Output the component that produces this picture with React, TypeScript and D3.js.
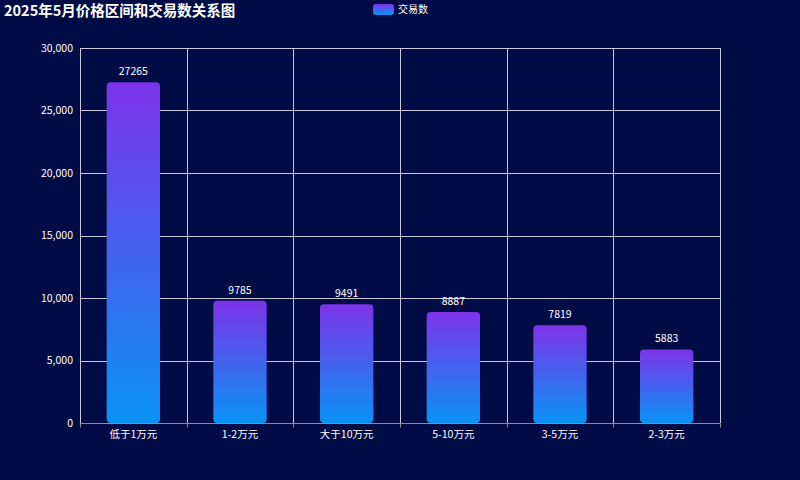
import { useEffect, useRef } from "react";
import * as d3 from "d3";

const categories = ["低于1万元", "1-2万元", "大于10万元", "5-10万元", "3-5万元", "2-3万元"];
const trades = [27265, 9785, 9491, 8887, 7819, 5883];
const yTicks = [0, 5000, 10000, 15000, 20000, 25000, 30000];

const BG = "#010b45";
const TOP = "#7d33e8";
const BOTTOM = "#0993f6";
const FONT = "'Noto Sans CJK SC', 'Noto Sans', sans-serif";

export default function App() {
  const ref = useRef<SVGSVGElement>(null);

  useEffect(() => {
    if (!ref.current) return;
    document.body.style.margin = "0";
    document.body.style.background = BG;
    const width = 800;
    const height = 480;
    const margin = { top: 48, right: 80, bottom: 57, left: 80 };

    const svg = d3.select(ref.current);
    svg.selectAll("*").remove();
    svg.attr("width", width).attr("height", height).style("font-family", FONT);

    svg.append("rect").attr("width", width).attr("height", height).attr("fill", BG);

    const defs = svg.append("defs");
    const grad = defs
      .append("linearGradient")
      .attr("id", "barGrad")
      .attr("x1", 0)
      .attr("y1", 0)
      .attr("x2", 0)
      .attr("y2", 1);
    grad.append("stop").attr("offset", "0%").attr("stop-color", TOP);
    grad.append("stop").attr("offset", "100%").attr("stop-color", BOTTOM);

    const x = d3
      .scaleBand()
      .domain(categories)
      .range([margin.left, width - margin.right])
      .paddingInner(0)
      .paddingOuter(0);

    const y = d3
      .scaleLinear()
      .domain([0, 30000])
      .range([height - margin.bottom, margin.top]);

    // horizontal grid
    svg
      .append("g")
      .attr("stroke", "#c8c8d8")
      .attr("stroke-width", 1)
      .selectAll("line")
      .data(yTicks.slice(1))
      .join("line")
      .attr("x1", margin.left)
      .attr("x2", width - margin.right)
      .attr("y1", (d) => Math.round(y(d)) + 0.5)
      .attr("y2", (d) => Math.round(y(d)) + 0.5);

    // vertical grid at band boundaries
    const bounds = categories.map((c) => x(c) ?? 0).concat([width - margin.right]);
    svg
      .append("g")
      .attr("stroke", "#c8c8d8")
      .attr("stroke-width", 1)
      .selectAll("line")
      .data(bounds)
      .join("line")
      .attr("x1", (d) => Math.round(d) + 0.5)
      .attr("x2", (d) => Math.round(d) + 0.5)
      .attr("y1", margin.top)
      .attr("y2", height - margin.bottom);

    // x axis line and ticks
    const axisY = Math.round(y(0)) + 0.5;
    svg
      .append("line")
      .attr("x1", margin.left)
      .attr("x2", width - margin.right)
      .attr("y1", axisY)
      .attr("y2", axisY)
      .attr("stroke", "#8a8a9a");
    svg
      .append("g")
      .attr("stroke", "#8a8a9a")
      .selectAll("line")
      .data(bounds)
      .join("line")
      .attr("x1", (d) => Math.round(d) + 0.5)
      .attr("x2", (d) => Math.round(d) + 0.5)
      .attr("y1", axisY)
      .attr("y2", axisY + 4);

    // y labels
    svg
      .append("g")
      .selectAll("text")
      .data(yTicks)
      .join("text")
      .attr("x", margin.left - 7)
      .attr("y", (d) => y(d))
      .attr("dy", "0.35em")
      .attr("text-anchor", "end")
      .attr("fill", "#ffffff")
      .attr("font-size", 10.5)
      .text((d) => d3.format(",")(d));

    // x labels
    svg
      .append("g")
      .selectAll("text")
      .data(categories)
      .join("text")
      .attr("x", (d) => (x(d) ?? 0) + x.bandwidth() / 2)
      .attr("y", y(0) + 15)
      .attr("text-anchor", "middle")
      .attr("fill", "#ffffff")
      .attr("font-size", 10.5)
      .text((d) => d);

    // bars
    const barW = x.bandwidth() * 0.5;
    svg
      .append("g")
      .selectAll("rect")
      .data(trades)
      .join("rect")
      .attr("x", (_, i) => (x(categories[i]) ?? 0) + (x.bandwidth() - barW) / 2)
      .attr("y", (d) => y(d))
      .attr("width", barW)
      .attr("height", (d) => y(0) - y(d))
      .attr("rx", 4)
      .attr("fill", "url(#barGrad)");

    // value labels
    svg
      .append("g")
      .selectAll("text")
      .data(trades)
      .join("text")
      .attr("x", (_, i) => (x(categories[i]) ?? 0) + x.bandwidth() / 2)
      .attr("y", (d) => y(d) - 7)
      .attr("text-anchor", "middle")
      .attr("fill", "#ffffff")
      .attr("font-size", 10.5)
      .text((d) => d);

    // title
    svg
      .append("text")
      .attr("x", 4)
      .attr("y", 15.5)
      .attr("fill", "#ffffff")
      .attr("font-size", 14.5)
      .attr("font-weight", "bold")
      .text("2025年5月价格区间和交易数关系图");

    // legend
    svg
      .append("rect")
      .attr("x", 373)
      .attr("y", 4)
      .attr("width", 21)
      .attr("height", 11)
      .attr("rx", 3)
      .attr("fill", "url(#barGrad)");
    svg
      .append("text")
      .attr("x", 398)
      .attr("y", 9.5)
      .attr("dy", "0.35em")
      .attr("fill", "#ffffff")
      .attr("font-size", 10)
      .text("交易数");
  }, []);

  return (
    <div style={{ width: 800, height: 480 }}>
      <svg ref={ref} style={{ display: "block" }} />
    </div>
  );
}
